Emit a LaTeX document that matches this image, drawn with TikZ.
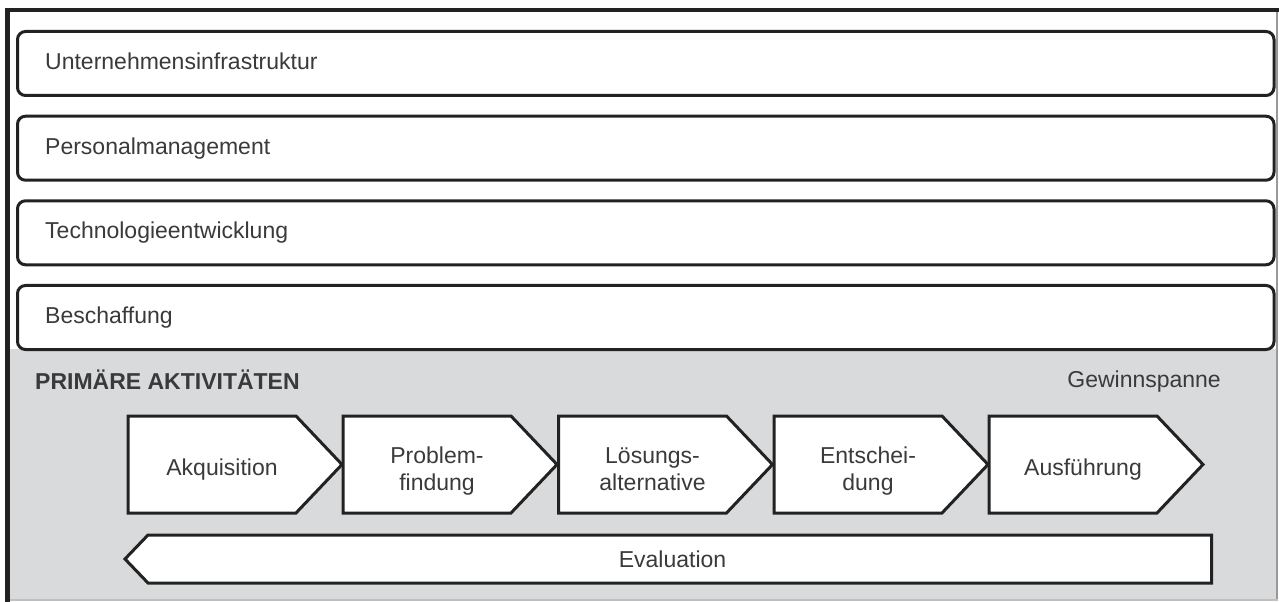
\documentclass[tikz,border=0pt]{standalone}
\usepackage{fontspec}
\setmainfont{Liberation Sans}
\definecolor{ink}{HTML}{222222}
\definecolor{txt}{HTML}{3A3A3A}
\definecolor{panel}{HTML}{D9DADC}
\newcommand\labelfont{\fontsize{23bp}{27bp}\selectfont}
% one step of the primary chain: a pentagon pointing right, with its label
\newcommand\stagebox[3]{%
  \draw[stage] (#2,416) -- ++(168,0) -- ++(46,48.5) -- ++(-46,48.5) -- ++(-168,0) -- cycle;
  \node[lbl, anchor=base] (#1) at (#2+94,475) {#3};
}
% same, with a label set on two lines of equal height
\newcommand\stageboxii[4]{%
  \draw[stage] (#2,416) -- ++(168,0) -- ++(46,48.5) -- ++(-46,48.5) -- ++(-168,0) -- cycle;
  \node[lbl, align=center] (#1) at (#2+94,470)
    {\vphantom{Ö}#3\\\vphantom{g}#4};
}
\tikzset{
  band/.style={draw=ink, line width=3bp, rounded corners=8bp, fill=white,
               minimum width=1256.5bp, minimum height=64bp, inner sep=0pt, anchor=north west},
  lbl/.style={font=\labelfont, text=txt, inner sep=0pt},
  stage/.style={draw=ink, line width=3bp, fill=white, line join=miter},
}
\begin{document}
\begin{tikzpicture}[x=1bp,y=-1bp]
\useasboundingbox (0,0) rectangle (1279,602);
\fill[white] (0,0) rectangle (1279,602);

% panel of the primary activities
\fill[panel] (10,349) rectangle (1276,599);

% frame
\draw[line width=1.5bp, draw=black!40] (1276.8,12) -- (1276.8,600);
\draw[line width=1.5bp, draw=black!25] (10,599.8) -- (1277.5,599.8);
\draw[ink, line width=4bp] (5,10) -- (1279,10);
\draw[ink, line width=5bp] (7.5,8) -- (7.5,602);

% support activities
\node[band] (infra) at (16,30) {};
\node[band] (hr)    at (16,114.7) {};
\node[band] (tech)  at (16,199.3) {};
\node[band] (proc)  at (16,284) {};
\node[lbl, anchor=base west] (infra-t) at (45,69.5)  {Unternehmensinfrastruktur};
\node[lbl, anchor=base west] (hr-t)    at (45,154.2) {Personalmanagement};
\node[lbl, anchor=base west] (tech-t)  at (45,238.8) {Technologieentwicklung};
\node[lbl, anchor=base west] (proc-t)  at (45,323.5) {Beschaffung};

% primary activities
\node[lbl, font=\labelfont\bfseries, anchor=base west] (primary) at (35,389) {PRIMÄRE AKTIVITÄTEN};
\node[lbl, anchor=base east] (margin) at (1221,387) {Gewinnspanne};

\stagebox{acq}{128}{Akquisition}
\stageboxii{prob}{343}{Problem-}{findung}
\stageboxii{alt}{558.5}{Lösungs-}{alternative}
\stageboxii{dec}{774}{Entschei-}{dung}
\stagebox{exe}{989}{Ausführung}

% feedback running back under the chain
\draw[stage] (125,559) -- (148,535) -- (1211.5,535) -- (1211.5,583) -- (148,583) -- cycle;
\node[lbl, anchor=base] (eval) at (672.5,567) {Evaluation};
\end{tikzpicture}
\end{document}
